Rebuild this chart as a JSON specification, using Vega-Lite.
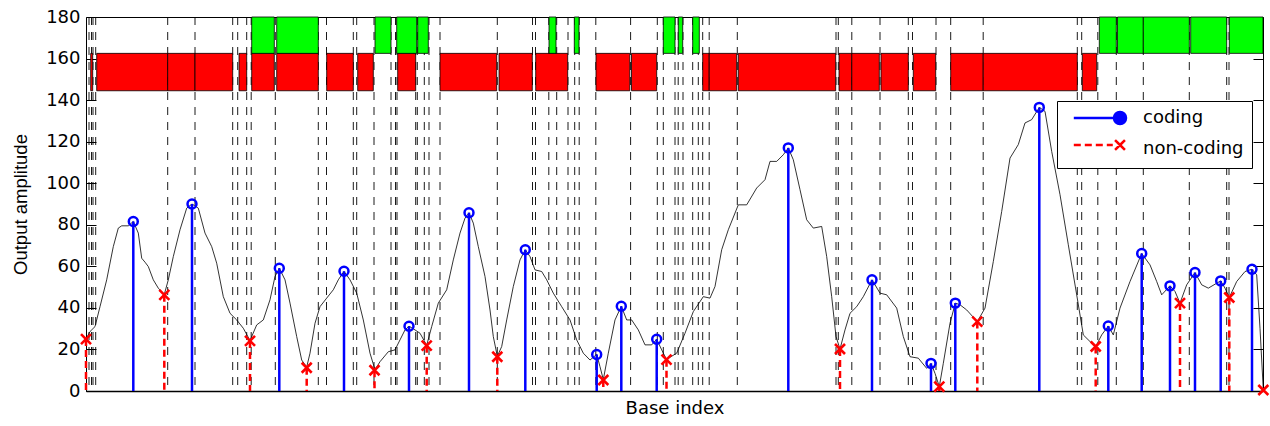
{
  "$schema": "https://vega.github.io/schema/vega-lite/v6.json",
  "width": 1177,
  "height": 374,
  "autosize": {"type": "none"},
  "padding": {"left": 86, "top": 17, "right": 7, "bottom": 35},
  "background": "white",
  "config": {
    "view": {"stroke": "black", "strokeWidth": 1},
    "font": "DejaVu Sans"
  },
  "datasets": {
    "signal": [
      {"x":86,"amp":25},{"x":90,"amp":28.6},{"x":95,"amp":31},{"x":100,"amp":40.6},{"x":106.7,"amp":53.5},{"x":113.3,"amp":69.5},{"x":118.3,"amp":78.4},{"x":121.7,"amp":79.5},{"x":128.3,"amp":79.5},{"x":133.3,"amp":81.6},{"x":138.3,"amp":76},{"x":141.7,"amp":63.9},{"x":145,"amp":62},{"x":148.3,"amp":59.9},{"x":153.3,"amp":53.5},{"x":158.3,"amp":49.5},{"x":164.3,"amp":46.5},{"x":168.3,"amp":53.5},{"x":173.3,"amp":64.7},{"x":180,"amp":77.6},{"x":186.7,"amp":88},{"x":192,"amp":90},{"x":198.3,"amp":88},{"x":205,"amp":76},{"x":211.7,"amp":69.5},{"x":216.7,"amp":61.5},{"x":223.3,"amp":45.4},{"x":230,"amp":37.4},{"x":236.7,"amp":34.2},{"x":243.3,"amp":30.2},{"x":250,"amp":24.3},{"x":256.7,"amp":31.8},{"x":263.3,"amp":34.2},{"x":270,"amp":43.9},{"x":275,"amp":55.1},{"x":279.3,"amp":59.1},{"x":285,"amp":53.5},{"x":290,"amp":42.3},{"x":296.7,"amp":26.2},{"x":301.7,"amp":14.9},{"x":306.7,"amp":11.5},{"x":310,"amp":18.2},{"x":315,"amp":32.6},{"x":320,"amp":40.6},{"x":326.7,"amp":44.7},{"x":333.3,"amp":48.7},{"x":338.3,"amp":53.5},{"x":344,"amp":57.6},{"x":350,"amp":53.5},{"x":356.7,"amp":47.1},{"x":363.3,"amp":34.2},{"x":370,"amp":18.2},{"x":375,"amp":10.2},{"x":380,"amp":14.1},{"x":388.3,"amp":18.9},{"x":395,"amp":19.8},{"x":400,"amp":24.6},{"x":405,"amp":29.4},{"x":409,"amp":31.2},{"x":415,"amp":29.4},{"x":420,"amp":27.8},{"x":426.7,"amp":22},{"x":431.7,"amp":31},{"x":438.3,"amp":42.3},{"x":446.7,"amp":48.7},{"x":453.3,"amp":63.1},{"x":460,"amp":76},{"x":465,"amp":83.2},{"x":469,"amp":85.8},{"x":473.3,"amp":80.8},{"x":478.3,"amp":69.5},{"x":485,"amp":55.1},{"x":490,"amp":39},{"x":493.3,"amp":26.2},{"x":497.3,"amp":16.7},{"x":501.7,"amp":21.4},{"x":506.7,"amp":34.2},{"x":513.3,"amp":50.3},{"x":520,"amp":63.1},{"x":525.3,"amp":68},{"x":530,"amp":64.7},{"x":535,"amp":58.3},{"x":541.7,"amp":57.5},{"x":546.7,"amp":53.5},{"x":553.3,"amp":47.1},{"x":561.7,"amp":40.6},{"x":570,"amp":34.2},{"x":576.7,"amp":24.6},{"x":583.3,"amp":18.2},{"x":590,"amp":14.9},{"x":596.7,"amp":17.6},{"x":600,"amp":11.7},{"x":603.3,"amp":5.5},{"x":608.3,"amp":18.2},{"x":615,"amp":34.2},{"x":621.3,"amp":40.8},{"x":626.7,"amp":34.2},{"x":631.7,"amp":34.2},{"x":638.3,"amp":29.4},{"x":645,"amp":22.2},{"x":651.7,"amp":22.2},{"x":656.7,"amp":24.9},{"x":661.7,"amp":19.8},{"x":666.5,"amp":15.2},{"x":676.7,"amp":18.2},{"x":685,"amp":27.8},{"x":693.3,"amp":38.2},{"x":703.3,"amp":45.4},{"x":710,"amp":44.7},{"x":715,"amp":50.3},{"x":721.7,"amp":68},{"x":728.3,"amp":77.6},{"x":738.3,"amp":89.6},{"x":746.7,"amp":89.6},{"x":756.7,"amp":97.7},{"x":765,"amp":101.7},{"x":770,"amp":110.5},{"x":776.7,"amp":110.5},{"x":783.3,"amp":113.7},{"x":788.3,"amp":117},{"x":793.3,"amp":111.3},{"x":800,"amp":96.9},{"x":806.7,"amp":82.4},{"x":813.3,"amp":78.4},{"x":821.7,"amp":79.2},{"x":826.7,"amp":64.7},{"x":831.7,"amp":45.4},{"x":836,"amp":26.2},{"x":840,"amp":20.2},{"x":845,"amp":29.4},{"x":850,"amp":37.4},{"x":856.7,"amp":40.6},{"x":863.3,"amp":45.4},{"x":872,"amp":53.5},{"x":880,"amp":47.1},{"x":886.7,"amp":46.3},{"x":896.7,"amp":39.9},{"x":903.3,"amp":26.2},{"x":910,"amp":16.5},{"x":918.3,"amp":15.8},{"x":926.7,"amp":10.9},{"x":931,"amp":13.3},{"x":935,"amp":8.5},{"x":939.3,"amp":2.1},{"x":943.3,"amp":13.3},{"x":950,"amp":32.6},{"x":955.3,"amp":42.3},{"x":960,"amp":41.5},{"x":966.7,"amp":39},{"x":977.3,"amp":33.4},{"x":985,"amp":39.9},{"x":993.3,"amp":62.3},{"x":1001.7,"amp":86.4},{"x":1010,"amp":112.1},{"x":1018.3,"amp":118.6},{"x":1025,"amp":129},{"x":1031.7,"amp":130.6},{"x":1039.3,"amp":136.5},{"x":1045,"amp":134.6},{"x":1051.7,"amp":115.3},{"x":1060,"amp":94.5},{"x":1068.3,"amp":70.4},{"x":1076.7,"amp":46.3},{"x":1083.3,"amp":27},{"x":1090,"amp":23.8},{"x":1095.7,"amp":21.4},{"x":1101.7,"amp":27},{"x":1108.3,"amp":31.3},{"x":1113.3,"amp":27},{"x":1120,"amp":39.9},{"x":1130,"amp":52.7},{"x":1141.7,"amp":66.2},{"x":1150,"amp":60.7},{"x":1156.7,"amp":52.7},{"x":1161.7,"amp":46.3},{"x":1170,"amp":50.6},{"x":1175,"amp":47.9},{"x":1180,"amp":42.3},{"x":1186.7,"amp":51.1},{"x":1195,"amp":57},{"x":1201.7,"amp":51.1},{"x":1208.3,"amp":49.5},{"x":1220.7,"amp":53},{"x":1225,"amp":49.5},{"x":1229.3,"amp":45},{"x":1236.7,"amp":52.7},{"x":1245,"amp":57.5},{"x":1252,"amp":58.6},{"x":1256.7,"amp":55.9},{"x":1260,"amp":30.2},{"x":1263.3,"amp":0.5}
    ],
    "extrema": [
      {"x":133.3,"amp":81.6,"type":"coding"},{"x":192,"amp":90,"type":"coding"},{"x":279.3,"amp":59.1,"type":"coding"},{"x":344,"amp":57.6,"type":"coding"},{"x":409,"amp":31.2,"type":"coding"},{"x":469,"amp":85.8,"type":"coding"},{"x":525.3,"amp":68,"type":"coding"},{"x":596.7,"amp":17.6,"type":"coding"},{"x":621.3,"amp":40.8,"type":"coding"},{"x":656.7,"amp":24.9,"type":"coding"},{"x":788.3,"amp":117,"type":"coding"},{"x":872,"amp":53.5,"type":"coding"},{"x":931,"amp":13.3,"type":"coding"},{"x":955.3,"amp":42.3,"type":"coding"},{"x":1039.3,"amp":136.5,"type":"coding"},{"x":1108.3,"amp":31.3,"type":"coding"},{"x":1141.7,"amp":66.2,"type":"coding"},{"x":1170,"amp":50.6,"type":"coding"},{"x":1195,"amp":57,"type":"coding"},{"x":1220.7,"amp":53,"type":"coding"},{"x":1252,"amp":58.6,"type":"coding"},
      {"x":86,"amp":25,"type":"non-coding"},{"x":164.3,"amp":46.3,"type":"non-coding"},{"x":250,"amp":24.1,"type":"non-coding"},{"x":306.7,"amp":11.2,"type":"non-coding"},{"x":374.5,"amp":10,"type":"non-coding"},{"x":426.7,"amp":21.8,"type":"non-coding"},{"x":497.3,"amp":16.5,"type":"non-coding"},{"x":603.3,"amp":5.3,"type":"non-coding"},{"x":666.5,"amp":15.1,"type":"non-coding"},{"x":840,"amp":20.2,"type":"non-coding"},{"x":939.3,"amp":2.1,"type":"non-coding"},{"x":977.3,"amp":33.4,"type":"non-coding"},{"x":1095.7,"amp":21.4,"type":"non-coding"},{"x":1180,"amp":42.3,"type":"non-coding"},{"x":1229.3,"amp":45,"type":"non-coding"},{"x":1263.3,"amp":0.5,"type":"non-coding"}
    ],
    "boundaries": [
      {"x":89},{"x":91.5},{"x":93},{"x":95.7},{"x":167.7},{"x":195},{"x":232.7},{"x":237.7},{"x":246.7},{"x":251.2},{"x":275.3},{"x":318.3},{"x":326.5},{"x":353.3},{"x":356.7},{"x":374},{"x":391},{"x":395.5},{"x":397},{"x":415.7},{"x":417.3},{"x":424.3},{"x":429},{"x":440},{"x":497.3},{"x":532.5},{"x":535.5},{"x":548.8},{"x":556.7},{"x":568},{"x":574.7},{"x":579.2},{"x":595.8},{"x":630.6},{"x":657.3},{"x":663.3},{"x":675},{"x":678.2},{"x":683},{"x":692.7},{"x":698.3},{"x":702.7},{"x":709.2},{"x":737.3},{"x":836},{"x":838.3},{"x":851.8},{"x":880},{"x":908.3},{"x":912.5},{"x":936},{"x":950.7},{"x":983.2},{"x":1077.3},{"x":1081.7},{"x":1097.8},{"x":1116.3},{"x":1143.3},{"x":1189.3},{"x":1226.7},{"x":1229}
    ],
    "segments": [
      {"x":90.7,"x2":92.7,"kind":"non-coding"},{"x":96.7,"x2":167.7,"kind":"non-coding"},{"x":167.7,"x2":195,"kind":"non-coding"},{"x":195,"x2":232.7,"kind":"non-coding"},{"x":239,"x2":246.7,"kind":"non-coding"},{"x":251.7,"x2":274.3,"kind":"non-coding"},{"x":276.7,"x2":318.3,"kind":"non-coding"},{"x":326.7,"x2":353.3,"kind":"non-coding"},{"x":357.7,"x2":373.3,"kind":"non-coding"},{"x":397.7,"x2":415.7,"kind":"non-coding"},{"x":440,"x2":496.7,"kind":"non-coding"},{"x":499,"x2":532.3,"kind":"non-coding"},{"x":535.7,"x2":567.7,"kind":"non-coding"},{"x":596,"x2":629.8,"kind":"non-coding"},{"x":631.5,"x2":656.7,"kind":"non-coding"},{"x":702.7,"x2":709.2,"kind":"non-coding"},{"x":709.2,"x2":736.7,"kind":"non-coding"},{"x":738.3,"x2":835.7,"kind":"non-coding"},{"x":839,"x2":851.8,"kind":"non-coding"},{"x":851.8,"x2":879.3,"kind":"non-coding"},{"x":881,"x2":908.3,"kind":"non-coding"},{"x":913.3,"x2":935.7,"kind":"non-coding"},{"x":950.7,"x2":983.2,"kind":"non-coding"},{"x":983.2,"x2":1077.3,"kind":"non-coding"},{"x":1082.3,"x2":1096.7,"kind":"non-coding"},
      {"x":251.7,"x2":274.3,"kind":"coding"},{"x":276.7,"x2":318.3,"kind":"coding"},{"x":375,"x2":391,"kind":"coding"},{"x":396.7,"x2":416.7,"kind":"coding"},{"x":417.7,"x2":428.3,"kind":"coding"},{"x":549,"x2":556,"kind":"coding"},{"x":574.3,"x2":579,"kind":"coding"},{"x":663.3,"x2":675,"kind":"coding"},{"x":678.3,"x2":682.7,"kind":"coding"},{"x":692.7,"x2":699.3,"kind":"coding"},{"x":1099.3,"x2":1116.3,"kind":"coding"},{"x":1117.5,"x2":1143.3,"kind":"coding"},{"x":1143.3,"x2":1189.3,"kind":"coding"},{"x":1190.7,"x2":1226.7,"kind":"coding"},{"x":1229.3,"x2":1263,"kind":"coding"}
    ]
  },
  "layer": [
    {
      "layer": [
        {
          "data": {"name": "boundaries"},
          "mark": {"type": "rule", "color": "black", "strokeWidth": 0.9, "strokeDash": [8, 7]},
          "encoding": {
            "x": {"field": "x", "type": "quantitative", "scale": {"domain": [86, 1263], "nice": false, "zero": false},
              "axis": {"labels": false, "ticks": false, "grid": false, "domain": true, "domainColor": "black", "domainWidth": 1.5, "title": "Base index", "titleFont": "DejaVu Sans", "titleFontSize": 18, "titleFontWeight": "normal", "titleColor": "black", "titlePadding": 8}}
          }
        },
        {
          "data": {"name": "signal"},
          "mark": {"type": "line", "color": "black", "strokeWidth": 0.8},
          "encoding": {
            "x": {"field": "x", "type": "quantitative"},
            "y": {"field": "amp", "type": "quantitative", "scale": {"domain": [0, 180], "nice": false},
              "axis": {"orient": "left", "values": [0,20,40,60,80,100,120,140,160,180], "tickSize": -10, "tickColor": "black", "labelFont": "DejaVu Sans", "labelFontSize": 18, "labelColor": "black", "labelPadding": 16, "labelFlush": false, "labelOverlap": false, "domain": false, "grid": false,
                "title": "Output amplitude", "titleFont": "Liberation Sans", "titleFontSize": 18.5, "titleFontWeight": "normal", "titleColor": "black", "titlePadding": 15}}
          }
        },
        {
          "data": {"name": "extrema"},
          "transform": [{"filter": "datum.type === 'coding'"}],
          "mark": {"type": "rule", "strokeWidth": 2.5},
          "encoding": {
            "x": {"field": "x", "type": "quantitative"},
            "y": {"field": "amp", "type": "quantitative"},
            "y2": {"datum": 0},
            "color": {"field": "type", "type": "nominal", "scale": {"domain": ["coding", "non-coding"], "range": ["#0000ff", "#ff0000"]},
              "legend": {"orient": "none", "legendX": 971, "legendY": 84, "title": null, "labelFont": "DejaVu Sans", "labelFontSize": 18, "labelColor": "black", "symbolType": "M-7.7,0L0,0M-1,0A1,1 0 1,0 1,0A1,1 0 1,0 -1,0Z", "symbolFillColor": "#0000ff", "symbolSize": 144, "symbolStrokeWidth": 2.5, "symbolOffset": 46, "labelOffset": 14, "rowPadding": 9, "padding": 8, "strokeColor": "black", "fillColor": "white"}}
          }
        },
        {
          "data": {"name": "extrema"},
          "transform": [{"filter": "datum.type === 'non-coding'"}],
          "mark": {"type": "rule", "strokeWidth": 2.5},
          "encoding": {
            "x": {"field": "x", "type": "quantitative"},
            "y": {"field": "amp", "type": "quantitative"},
            "y2": {"datum": 0},
            "color": {"field": "type", "type": "nominal"},
            "strokeDash": {"field": "type", "type": "nominal", "scale": {"domain": ["non-coding"], "range": [[7, 4]]},
              "legend": {"orient": "none", "legendX": 975, "legendY": 115, "title": null, "labelExpr": "''", "labelFontSize": 18, "symbolType": "M-7.7,0L-1.2,0M0,0L0.95,0.95M0,0L-0.95,0.95M0,0L0.95,-0.95M0,0L-0.95,-0.95", "symbolStrokeColor": "#ff0000", "symbolFillColor": "transparent", "symbolSize": 144, "symbolStrokeWidth": 2.5, "symbolOffset": 46, "labelOffset": 0, "padding": 4, "fillColor": "white"}}
          }
        },
        {
          "data": {"name": "extrema"},
          "transform": [{"filter": "datum.type === 'coding'"}],
          "mark": {"type": "point", "shape": "circle", "filled": false, "color": "#0000ff", "strokeWidth": 2.5, "size": 80, "opacity": 1},
          "encoding": {
            "x": {"field": "x", "type": "quantitative"},
            "y": {"field": "amp", "type": "quantitative"}
          }
        },
        {
          "data": {"name": "extrema"},
          "transform": [{"filter": "datum.type === 'non-coding'"}],
          "mark": {"type": "point", "shape": "M-1,-1L1,1M-1,1L1,-1", "filled": false, "color": "#ff0000", "strokeWidth": 2.6, "size": 100, "opacity": 1},
          "encoding": {
            "x": {"field": "x", "type": "quantitative"},
            "y": {"field": "amp", "type": "quantitative"}
          }
        }
      ]
    },
    {
      "data": {"name": "segments"},
      "layer": [
        {
          "transform": [{"filter": "datum.kind === 'non-coding'"}],
          "mark": {"type": "rect", "fill": "#ff0000", "stroke": "#000000", "strokeWidth": 0.8},
          "encoding": {
            "x": {"field": "x", "type": "quantitative"},
            "x2": {"field": "x2"},
            "y": {"datum": 144.5, "type": "quantitative", "scale": {"domain": [0, 180], "nice": false},
              "axis": {"orient": "right", "values": [0,20,40,60,80,100,120,140,160,180], "tickSize": -10, "tickColor": "black", "labels": false, "domain": false, "grid": false, "title": null}},
            "y2": {"datum": 162.5}
          }
        },
        {
          "transform": [{"filter": "datum.kind === 'coding'"}],
          "mark": {"type": "rect", "fill": "#00ff00", "stroke": "#000000", "strokeWidth": 0.8},
          "encoding": {
            "x": {"field": "x", "type": "quantitative"},
            "x2": {"field": "x2"},
            "y": {"datum": 162.5, "type": "quantitative"},
            "y2": {"datum": 180}
          }
        }
      ]
    }
  ],
  "resolve": {"scale": {"y": "independent"}}
}
